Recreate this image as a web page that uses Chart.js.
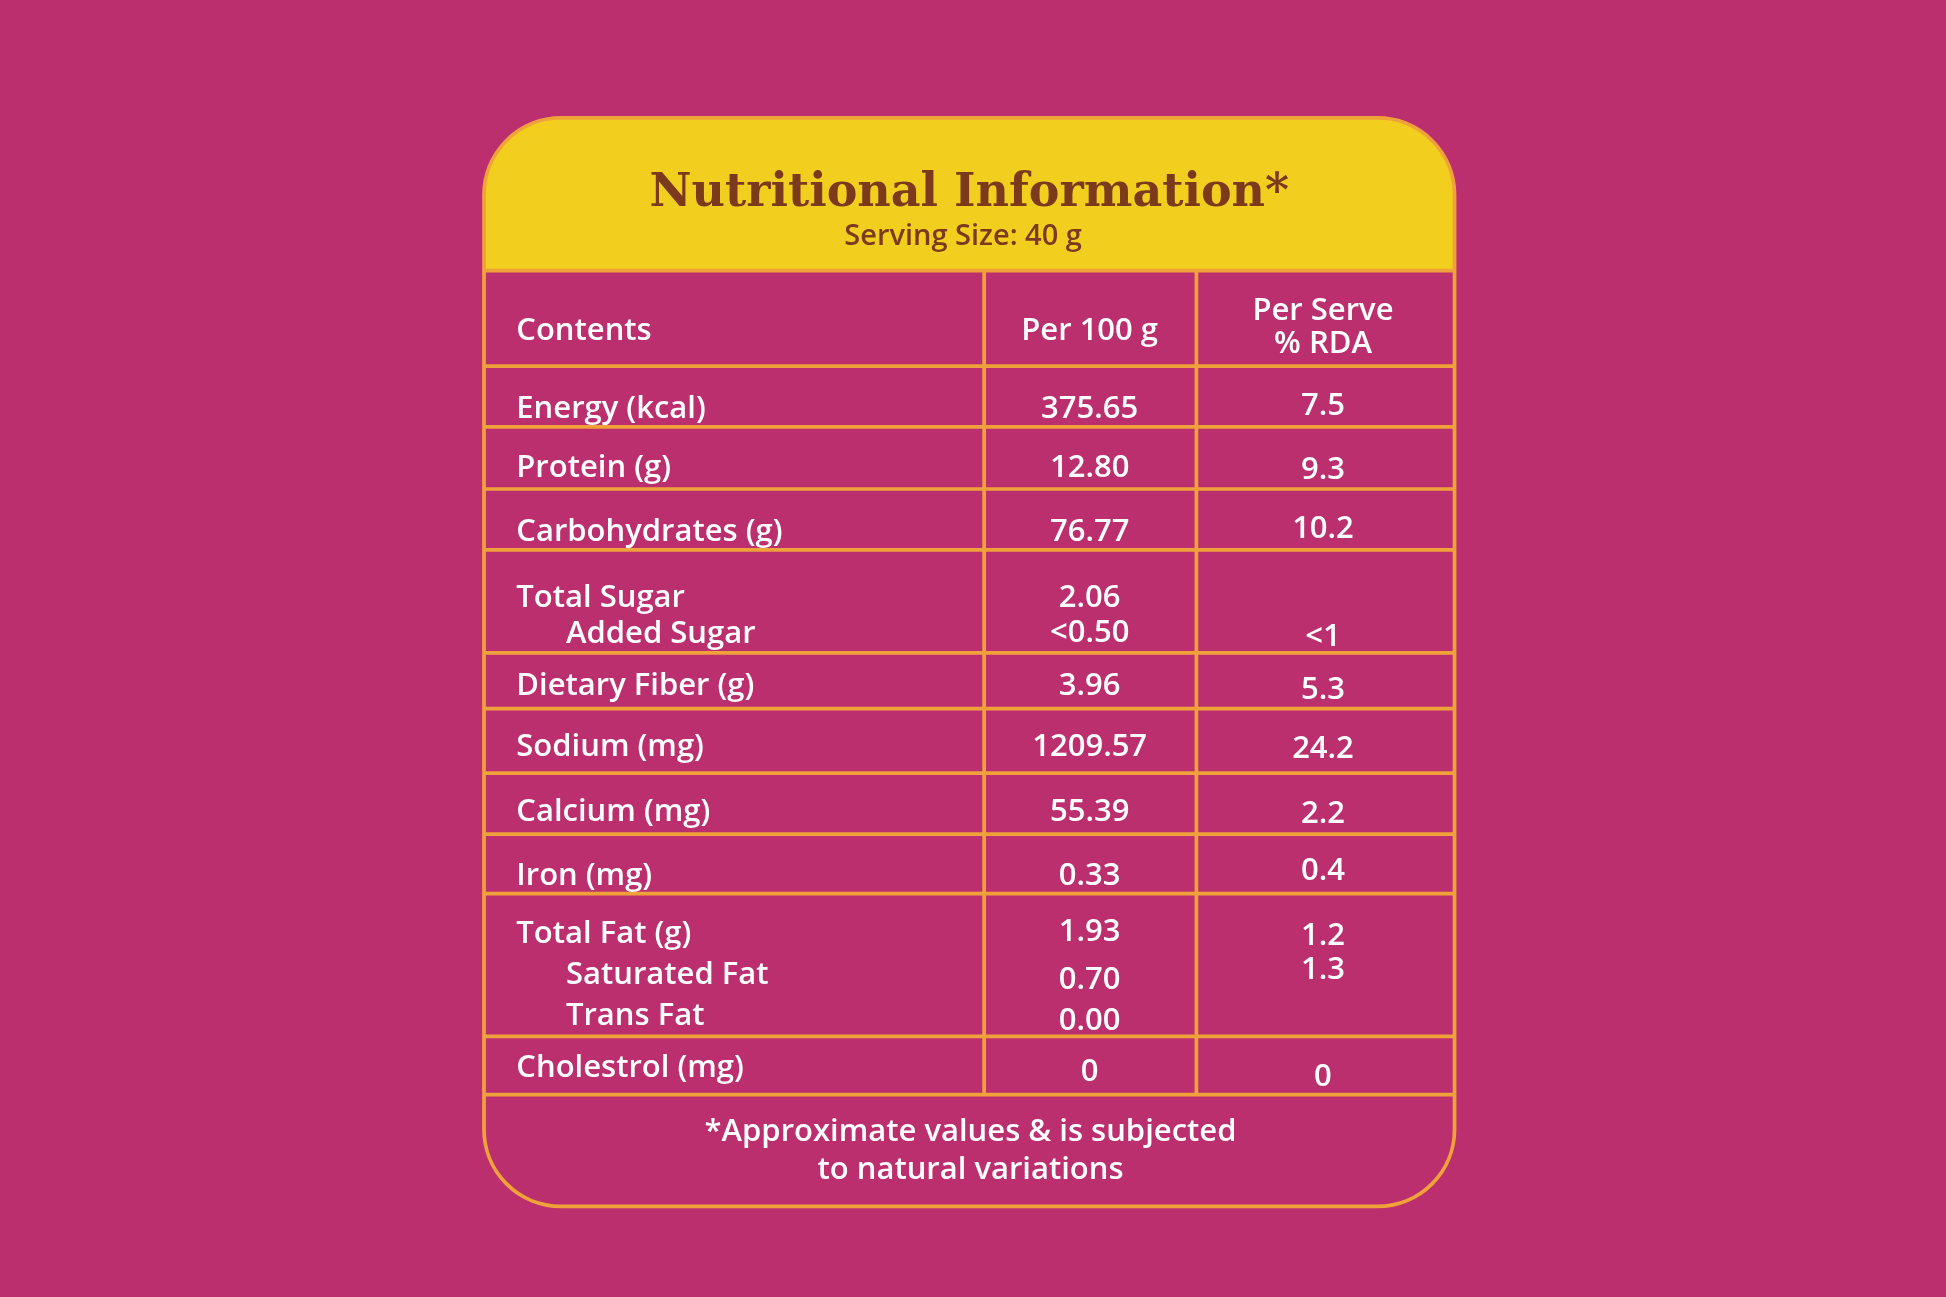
<!DOCTYPE html>
<html><head><meta charset="utf-8">
<script src="https://cdn.jsdelivr.net/npm/chart.js@4"></script>
<style>html,body{margin:0;padding:0;background:#BC2F6E;overflow:hidden}#wrap{width:1946px;height:1297px}</style>
</head><body><div id="wrap"><canvas id="c"></canvas></div>
<script>
// ---- data ----
const title = "Nutritional Information*";
const subtitle = "Serving Size: 40 g";
const headers = ["Contents", "Per 100 g", ["Per Serve", "% RDA"]];
const contents = [["Energy (kcal)"],["Protein (g)"],["Carbohydrates (g)"],["Total Sugar","Added Sugar"],["Dietary Fiber (g)"],["Sodium (mg)"],["Calcium (mg)"],["Iron (mg)"],["Total Fat (g)","Saturated Fat","Trans Fat"],["Cholestrol (mg)"]];
const per100g = [["375.65"],["12.80"],["76.77"],["2.06","<0.50"],["3.96"],["1209.57"],["55.39"],["0.33"],["1.93","0.70","0.00"],["0"]];
const rda = [["7.5"],["9.3"],["10.2"],["<1"],["5.3"],["24.2"],["2.2"],["0.4"],["1.2","1.3"],["0"]];
const footnote = ["*Approximate values & is subjected", "to natural variations"];

// ---- layout (reference units, 1568x1045) ----
const card = {x0:390, x1:1172, y0:95, y1:972, r:62, headerBottom:218};
const colX = [793, 964];
const rowLines = [218, 295, 344, 394, 443, 526, 571, 623, 672, 720, 835, 882];
const labelX = 416, indentX = 456, c1X = 878, c2X = 1066;
const headerY = [[267],[267],[251,277]];
const labelY = [[330],[377],[429],[482,511],[553],[602],[654],[706],[753,786,819],[861]];
const c1Y = [[330],[377],[429],[482,510],[553],[602],[654],[706],[751,790,823],[864]];
const c2Y = [[327],[379],[426],[513],[556],[604],[656],[702],[754,782],[868]];

const tablePlugin = {
  id:'table',
  afterDraw(chart){
    const ctx = chart.ctx, xs = chart.scales.x, ys = chart.scales.y;
    const X = v => xs.getPixelForValue(v), Y = v => ys.getPixelForValue(v);
    const k = (X(1568)-X(0))/1568;
    const bodyFont = w => `${w} ${Math.round(25*k)}px "Open Sans", sans-serif`;
    ctx.save();
    // card shape
    const rr = (x0,y0,x1,y1,r)=>{ctx.beginPath();ctx.roundRect(X(x0),Y(y0),X(x1)-X(x0),Y(y1)-Y(y0),r*k);};
    // header yellow
    ctx.save(); rr(card.x0,card.y0,card.x1,card.y1,card.r); ctx.clip();
    ctx.fillStyle='#F2CF1F'; ctx.fillRect(X(card.x0),Y(card.y0),X(card.x1)-X(card.x0),Y(card.headerBottom)-Y(card.y0));
    ctx.restore();
    ctx.strokeStyle='#EFA23A'; ctx.lineWidth=3*k;
    rr(card.x0,card.y0,card.x1,card.y1,card.r); ctx.stroke();
    // rows
    rowLines.forEach(y=>{ctx.beginPath();ctx.moveTo(X(card.x0),Y(y));ctx.lineTo(X(card.x1),Y(y));ctx.stroke();});
    colX.forEach(x=>{ctx.beginPath();ctx.moveTo(X(x),Y(rowLines[0]));ctx.lineTo(X(x),Y(rowLines[rowLines.length-1]));ctx.stroke();});
    // title
    ctx.textBaseline='middle'; ctx.textAlign='center';
    ctx.fillStyle='#7B3A1C';
    ctx.font=`bold ${Math.round(37*k)}px "DejaVu Serif", serif`;
    ctx.fillText(title, X(781), Y(156));
    ctx.font=`600 ${Math.round(23*k)}px "Open Sans", sans-serif`;
    ctx.fillText(subtitle, X(776), Y(191));
    // body
    ctx.fillStyle='#FFFFFF'; ctx.font=bodyFont(600);
    ctx.textAlign='left'; ctx.fillText(headers[0], X(labelX), Y(headerY[0][0]));
    ctx.textAlign='center'; ctx.fillText(headers[1], X(c1X), Y(headerY[1][0]));
    headers[2].forEach((t,i)=>ctx.fillText(t, X(c2X), Y(headerY[2][i])));
    contents.forEach((lines,r)=>{
      lines.forEach((t,i)=>{ctx.textAlign='left';ctx.fillText(t, X(i===0?labelX:indentX), Y(labelY[r][i]));});
      per100g[r].forEach((t,i)=>{ctx.textAlign='center';ctx.fillText(t, X(c1X), Y(c1Y[r][i]));});
      rda[r].forEach((t,i)=>{ctx.textAlign='center';ctx.fillText(t, X(c2X), Y(c2Y[r][i]));});
    });
    ctx.font=bodyFont(600);
    ctx.fillText(footnote[0], X(782), Y(912));
    ctx.fillText(footnote[1], X(782), Y(943));
    ctx.restore();
  }
};

new Chart(document.getElementById('c'),{
  type:'scatter',
  data:{datasets:[{data:[]}]},
  options:{
    responsive:true, maintainAspectRatio:false, animation:false,
    layout:{padding:0},
    plugins:{legend:{display:false},tooltip:{enabled:false}},
    scales:{
      x:{type:'linear',min:0,max:1568,display:false},
      y:{type:'linear',min:0,max:1045,reverse:true,display:false}
    }
  },
  plugins:[tablePlugin]
});
</script></body></html>
